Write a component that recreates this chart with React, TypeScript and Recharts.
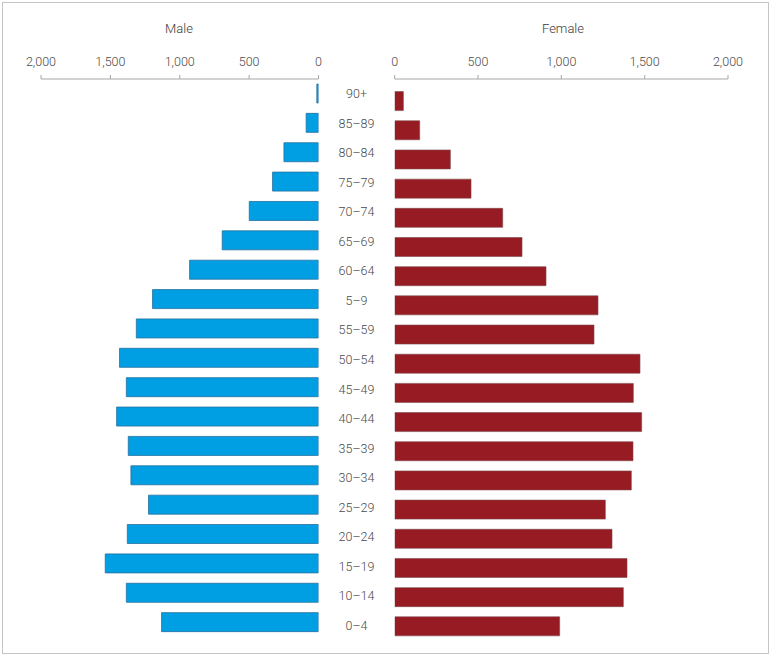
import { BarChart, Bar, XAxis, YAxis } from 'recharts'

const ageGroups = ['90+', '85–89', '80–84', '75–79', '70–74', '65–69', '60–64', '5–9', '55–59', '50–54', '45–49', '40–44', '35–39', '30–34', '25–29', '20–24', '15–19', '10–14', '0–4']
const maleCounts = [12, 89, 249, 331, 499, 694, 929, 1196, 1313, 1434, 1385, 1455, 1371, 1352, 1225, 1378, 1537, 1385, 1131]
const femaleCounts = [52, 150, 334, 458, 648, 764, 908, 1220, 1196, 1472, 1432, 1482, 1430, 1420, 1264, 1304, 1394, 1372, 990]
const axisTicks = [0, 500, 1000, 1500, 2000]

const data = ageGroups.map((age, i) => ({ age, male: maleCounts[i], female: femaleCounts[i] }))

const FONT = 'Roboto, sans-serif'
const tickStyle = { fontSize: 12.5, fill: '#4a4a4a', fontFamily: FONT, fontWeight: 300 }
const fmt = (v: number) => v.toLocaleString('en-US')

// eslint-disable-next-line @typescript-eslint/no-explicit-any
function AgeTick({ x, y, payload }: any) {
  return (
    <text x={x + 38} y={y} textAnchor="middle" dominantBaseline="central" fontSize={12.5} fontWeight={300} fill="#4a4a4a" fontFamily={FONT}>
      {payload.value}
    </text>
  )
}

export default function App() {
  return (
    <div style={{ position: 'absolute', left: 0, top: 0, width: 771, height: 657, background: '#fff' }}>
      <div style={{ position: 'absolute', left: 2, top: 2, width: 765, height: 650, border: '1px solid #c4c4c4' }} />
      <div style={{ position: 'absolute', left: 0, top: 21, width: 358, textAlign: 'center', fontFamily: FONT, fontSize: 13, fontWeight: 300, color: '#3a3a3a' }}>Male</div>
      <div style={{ position: 'absolute', left: 395, top: 21, width: 336, textAlign: 'center', fontFamily: FONT, fontSize: 13, fontWeight: 300, color: '#3a3a3a' }}>Female</div>

      <div style={{ position: 'absolute', left: 0, top: 0 }}>
        <BarChart width={771} height={657} data={data} layout="vertical" barSize={19}
          margin={{ top: 49, right: 375.5, bottom: 17, left: 41 }}>
          <XAxis type="number" orientation="top" reversed domain={[0, 2000]} ticks={axisTicks}
            tickFormatter={fmt} height={30} tick={tickStyle} tickSize={4} tickMargin={9}
            stroke="#a6a6a6" allowDataOverflow />
          <YAxis type="category" dataKey="age" hide padding={{ top: 0, bottom: 3 }} />
          <YAxis yAxisId="lbl" type="category" dataKey="age" orientation="right" width={77}
            axisLine={false} tickLine={false} tickSize={0} tickMargin={0} tick={<AgeTick />} interval={0} />
          <Bar dataKey="male" fill="#009fe3" stroke="#24709e" strokeWidth={0.8} isAnimationActive={false} />
        </BarChart>
      </div>

      <div style={{ position: 'absolute', left: 0, top: 0 }}>
        <BarChart width={771} height={657} data={data} layout="vertical" barSize={19}
          margin={{ top: 49, right: 43, bottom: 16, left: 394.7 }}>
          <XAxis type="number" orientation="top" domain={[0, 2000]} ticks={axisTicks}
            tickFormatter={fmt} height={30} tick={tickStyle} tickSize={4} tickMargin={9}
            stroke="#a6a6a6" allowDataOverflow />
          <YAxis type="category" dataKey="age" hide padding={{ top: 7.6, bottom: 0 }} />
          <Bar dataKey="female" fill="#961b22" stroke="#7d4a4d" strokeWidth={0.6} isAnimationActive={false} />
        </BarChart>
      </div>
    </div>
  )
}
